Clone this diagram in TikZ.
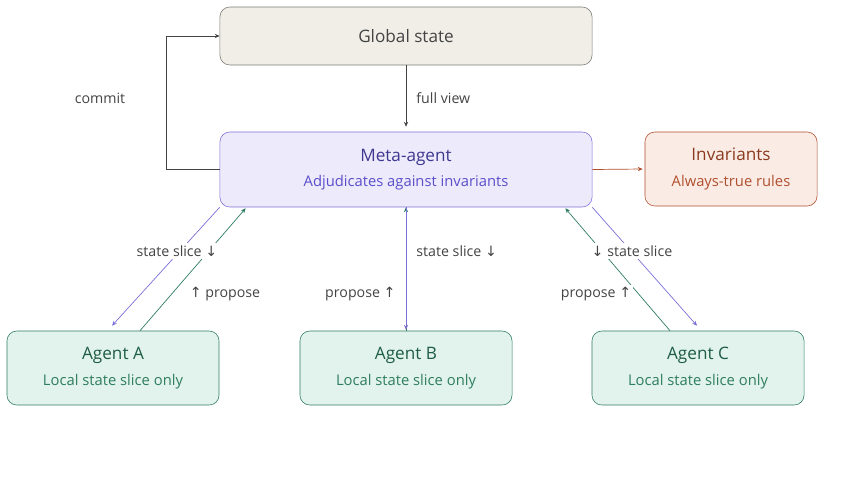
\documentclass[tikz,border=0pt]{standalone}
\usepackage{fontspec}
\setmainfont{Open Sans}
\newfontfamily\arrowfont{DejaVu Sans}
\usetikzlibrary{arrows.meta,positioning,calc}
\definecolor{stoneline}{HTML}{7A7A74}
\definecolor{stonefill}{HTML}{F1EEE8}
\definecolor{violet}{HTML}{7B70D8}
\definecolor{violetfill}{HTML}{EDEBFB}
\definecolor{violettext}{HTML}{3E3890}
\definecolor{violetsub}{HTML}{5A4ECB}
\definecolor{rust}{HTML}{B0502E}
\definecolor{rustfill}{HTML}{FAEBE5}
\definecolor{rusttext}{HTML}{8A3A1E}
\definecolor{pine}{HTML}{2F7D60}
\definecolor{pinefill}{HTML}{E1F3EC}
\definecolor{pinetext}{HTML}{1E5C45}
\definecolor{ink}{HTML}{444444}
\newcommand{\darr}{{\arrowfont ↓}}
\newcommand{\uarr}{{\arrowfont ↑}}
\newcommand{\ttl}{\fontsize{12.2}{14}\selectfont}
\newcommand{\subline}[1]{\\[6pt]{\fontsize{10.5}{12}\selectfont #1}}
\tikzset{
  statebox/.style={
    rectangle, rounded corners=7pt, draw=#1, fill=#1fill,
    text=#1text, align=center, inner sep=2pt
  },
  globalbox/.style={
    rectangle, rounded corners=7pt, draw=stoneline, fill=stonefill,
    text=ink, align=center, font=\ttl,
    minimum width=9.3cm, minimum height=1.45cm
  },
  edgelabel/.style={
    fill=white, text=ink, inner sep=1.5pt,
    font=\fontsize{10.1}{12}\selectfont
  },
  flow/.style={
    -{Stealth[length=3.5pt,width=3pt]}, line width=0.5pt, color=#1
  },
  flow/.default=ink,
}

\begin{document}
\begin{tikzpicture}[x=0.025cm, y=-0.025cm]
  \useasboundingbox (0,0) rectangle (860,482);

  \node[globalbox] (global) at (406,36) {Global state};
  \node[statebox=violet, minimum width=9.3cm, minimum height=1.875cm,
        text=violettext] (meta) at (406,169.5)
    {\ttl Meta-agent\subline{\color{violetsub}Adjudicates against invariants}};
  \node[statebox=rust, minimum width=4.3cm, minimum height=1.85cm]
    (inv) at (731,169) {\ttl Invariants\subline{\color{rust}Always-true rules}};
  \node[statebox=pine, minimum width=5.3cm, minimum height=1.85cm]
    (agA) at (113,368) {\ttl Agent A\subline{\color{pine}Local state slice only}};
  \node[statebox=pine, minimum width=5.3cm, minimum height=1.85cm]
    (agB) at (406,368) {\ttl Agent B\subline{\color{pine}Local state slice only}};
  \node[statebox=pine, minimum width=5.3cm, minimum height=1.85cm]
    (agC) at (698,368) {\ttl Agent C\subline{\color{pine}Local state slice only}};

  % global <-> meta
  \draw[flow] (meta.west) -- ++(-53,0) |- (global.west);
  \draw[flow] (global.south) -- ([shift={(0,-5)}]meta.north);
  \draw[flow=rust] (meta.east) -- ([shift={(-2,0)}]inv.west);

  % agent A
  \draw[flow=violet] (meta.south west) -- ([shift={(-1,-5)}]agA.north);
  \draw[flow=pine] ([shift={(27,0)}]agA.north) -- ([shift={(26,1)}]meta.south west);
  % agent B
  \draw[flow=pine] (agB.north) -- (meta.south);
  \draw[flow=violet] (meta.south) -- ([shift={(0,-1)}]agB.north);
  % agent C
  \draw[flow=pine] ([shift={(-28,0)}]agC.north) -- ([shift={(-27,1)}]meta.south east);
  \draw[flow=violet] (meta.south east) -- ([shift={(-1,-5)}]agC.north);

  % labels
  \node[edgelabel, fill=none] (lcommit) at (100,98) {commit};
  \node[edgelabel, fill=none, anchor=west] (lview) at (414,98) {full view};
  \node[edgelabel] (lsliceA) at (177,251) {state slice \darr};
  \node[edgelabel] (lpropA) at (225,294) {\uarr\ propose};
  \node[edgelabel, anchor=west] (lsliceB) at (414,251) {state slice \darr};
  \node[edgelabel, anchor=east] (lpropB) at (398,294) {propose \uarr};
  \node[edgelabel] (lsliceC) at (632,251) {\darr\ state slice};
  \node[edgelabel] (lpropC) at (596,294) {propose \uarr};
\end{tikzpicture}
\end{document}
